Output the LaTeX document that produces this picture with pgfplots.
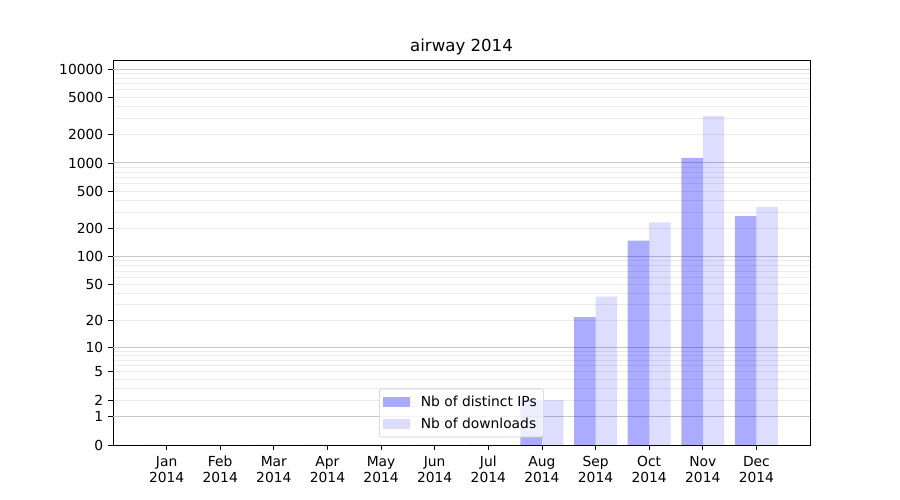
\documentclass[border=0pt]{standalone}
\usepackage{fontspec}
\setmainfont{DejaVu Sans}
\usepackage{pgfplots}
\usepackage{pgfplotstable}
\pgfplotsset{compat=1.18}
\pgfplotstableread{
x ips dl
0 0 0
1 0 0
2 0 0
3 0 0
4 0 0
5 0 0
6 0 0
7 2 2
8 22 37
9 148 232
10 1130 3150
11 272 340
}\datatable
\begin{document}
\begin{tikzpicture}
\path[use as bounding box] (-1.13in,-0.55in) rectangle (7.87in,4.45in);
\begin{axis}[
  scale only axis,
  width=6.97in, height=3.85in,
  xmin=-1, xmax=12,
  ymin=0, ymax=4.096,
  ybar, bar width=0.4,
  title={airway 2014},
  title style={font=\fontsize{12}{14}\selectfont, yshift=-6pt},
  xtick={0,1,2,3,4,5,6,7,8,9,10,11},
  xticklabels={{Jan\\2014},{Feb\\2014},{Mar\\2014},{Apr\\2014},{May\\2014},{Jun\\2014},{Jul\\2014},{Aug\\2014},{Sep\\2014},{Oct\\2014},{Nov\\2014},{Dec\\2014}},
  xticklabel style={align=center, font=\fontsize{10}{11.5}\selectfont, yshift=-1pt},
  ytick={0,0.30103,0.47712,0.77815,1.04139,1.32222,1.70757,2.00432,2.30320,2.69984,3.00043,3.30125,3.69906,4.00004},
  yticklabels={0,1,2,5,10,20,50,100,200,500,1000,2000,5000,10000},
  yticklabel style={font=\fontsize{10}{12}\selectfont},
  minor ytick={0.47712,0.60206,0.69897,0.77815,0.84510,0.90309,0.95424,1.0,
    1.32222,1.49136,1.61278,1.70757,1.78533,1.85126,1.90849,1.95904,
    2.30320,2.47857,2.60314,2.69984,2.77887,2.84572,2.90363,2.95472,
    3.30125,3.47727,3.60217,3.69906,3.77822,3.84516,3.90314,3.95429},
  minor tick length=0pt,
  yminorgrids=true,
  minor grid style={color=black!8, line width=0.6pt},
  extra y ticks={0.30103,1.04139,2.00432,3.00043,4.00004},
  extra y tick labels={},
  extra y tick style={grid=major, major grid style={color=black!22, line width=0.7pt}},
  tick align=outside,
  major tick length=3.5pt,
  xtick pos=left, ytick pos=left,
  axis line style={line width=0.6pt},
  tick style={black, line width=0.6pt},
  legend style={at={(0.5,0.02)}, anchor=south, draw=black!20, rounded corners=2pt,
    fill=white, fill opacity=0.8, text opacity=1, font=\fontsize{10}{12}\selectfont,
    row sep=2.5pt, inner sep=3pt},
  legend cell align=left,
  legend image code/.code={\fill[#1, sharp corners] (0pt,-3.5pt) rectangle (19.5pt,3.5pt);
     \path (0pt,0pt) -- (25pt,0pt);},
  /pgf/number format/assume math mode=true,
]
\addplot[draw=none, fill=blue, fill opacity=0.33, bar shift=-0.2] table[x=x, y expr={log10(1+\thisrow{ips})}] {\datatable};
\addlegendentry{Nb of distinct IPs}
\addplot[draw=none, fill=blue, fill opacity=0.135, bar shift=0.2] table[x=x, y expr={log10(1+\thisrow{dl})}] {\datatable};
\addlegendentry{Nb of downloads}
\end{axis}
\end{tikzpicture}
\end{document}
